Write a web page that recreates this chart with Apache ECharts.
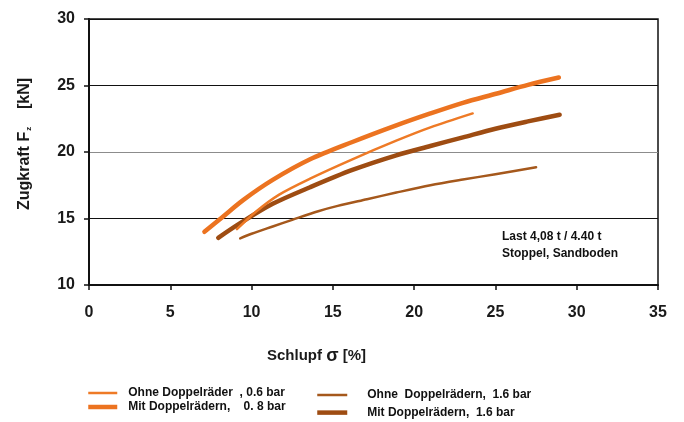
<!DOCTYPE html>
<html>
<head>
<meta charset="utf-8">
<script src="https://cdn.jsdelivr.net/npm/echarts@6/dist/echarts.min.js"></script>
<style>
  html, body { margin: 0; padding: 0; background: #fff; }
  #chart { width: 684px; height: 422px; }
</style>
</head>
<body>
<div id="chart"></div>
<script>
// Schlupf (x, %) und Zugkraft (y, kN) je Messreihe
const slipMit08 = [7.1, 8.2, 9.5, 11.3, 13.6, 16.2, 18.9, 21.0, 23.0, 25.1, 27.0, 28.9];
const forceMit08 = [14.0, 15.1, 16.4, 17.9, 19.45, 20.75, 22.0, 22.9, 23.7, 24.4, 25.05, 25.6];

const slipOhne06 = [9.1, 10.3, 11.7, 13.6, 16.2, 18.9, 21.0, 23.6];
const forceOhne06 = [14.2, 15.55, 16.8, 18.0, 19.45, 20.85, 21.85, 22.9];

const slipOhne16 = [9.3, 10.0, 11.3, 12.5, 14.1, 15.3, 17.1, 18.9, 21.0, 23.0, 25.0, 27.5];
const forceOhne16 = [13.5, 13.85, 14.4, 14.9, 15.55, 15.95, 16.45, 16.95, 17.5, 17.93, 18.33, 18.85];

const slipMit16 = [7.95, 9.3, 11.3, 13.6, 16.2, 18.9, 21.0, 23.0, 25.0, 27.0, 28.95];
const forceMit16 = [13.55, 14.65, 16.1, 17.35, 18.65, 19.75, 20.45, 21.1, 21.75, 22.3, 22.8];

const seriesNames = [
  'Ohne Doppelräder  , 0.6 bar',
  'Mit Doppelrädern,    0. 8 bar',
  'Ohne  Doppelrädern,  1.6 bar',
  'Mit Doppelrädern,  1.6 bar'
];

const xTicks = { min: 0, max: 35, step: 5 };
const yTicks = { min: 10, max: 30, step: 5 };

const zip = (xs, ys) => xs.map((x, i) => [x, ys[i]]);

const FONT = 'Liberation Sans, Arial, sans-serif';
const ORANGE = '#EC7320';
const ORANGE_THIN = '#EE7A26';
const BROWN = '#9E4C12';
const BROWN_THIN = '#A5581C';
const THIN = 2.5;
const THICK = 4.5;

function curve(name, data, color, width, z) {
  return {
    name, type: 'line', data, smooth: 0.3, symbol: 'none', z,
    lineStyle: { color, width, cap: 'round', join: 'round' },
    itemStyle: { color },
    emphasis: { disabled: true }
  };
}

const legendText = (gap) => ({
  fontSize: 12, fontWeight: 'bold', color: '#111', fontFamily: FONT,
  lineHeight: 12, padding: [0, 0, 0, gap]
});

const chart = echarts.init(document.getElementById('chart'), null, { renderer: 'canvas' });

chart.setOption({
  animation: false,
  backgroundColor: '#fff',
  textStyle: { fontFamily: FONT },
  grid: {
    left: 89, right: 26, top: 19, bottom: 137,
    show: true, borderColor: '#111', borderWidth: 1.5, backgroundColor: 'transparent'
  },
  xAxis: {
    type: 'value', min: xTicks.min, max: xTicks.max, interval: xTicks.step,
    axisLine: { show: true, lineStyle: { color: '#111', width: 2 } },
    axisTick: { show: true, inside: false, length: 5, lineStyle: { color: '#111', width: 1.5 } },
    splitLine: { show: false },
    axisLabel: { margin: 20, fontSize: 16, fontWeight: 'bold', color: '#1a1a1a', fontFamily: FONT },
    name: 'Schlupf {s|σ} [%]',
    nameLocation: 'middle',
    nameGap: 62,
    nameTextStyle: {
      fontSize: 15, fontWeight: 'bold', color: '#1a1a1a', fontFamily: FONT,
      padding: [0, 114, 0, 0],
      rich: { s: { fontSize: 18, fontWeight: 'bold', color: '#1a1a1a', fontFamily: FONT } }
    }
  },
  yAxis: {
    type: 'value', min: yTicks.min, max: yTicks.max, interval: yTicks.step,
    axisLine: { show: true, lineStyle: { color: '#111', width: 2 } },
    axisTick: { show: true, inside: false, length: 5, lineStyle: { color: '#111', width: 1.5 } },
    splitLine: { show: true, lineStyle: { color: ['#111', '#111', '#8c8c8c', '#111', '#111'], width: 1.2 } },
    axisLabel: { margin: 14, fontSize: 16, fontWeight: 'bold', color: '#1a1a1a', fontFamily: FONT },
    name: 'Zugkraft F{sub|z}    [kN]',
    nameLocation: 'middle',
    nameRotate: 90,
    nameGap: 56,
    nameTextStyle: {
      fontSize: 16, fontWeight: 'bold', color: '#1a1a1a', fontFamily: FONT,
      padding: [0, 0, 0, 16],
      rich: { sub: { fontSize: 8, fontWeight: 'bold', color: '#1a1a1a', padding: [8, 0, 0, 1] } }
    }
  },
  legend: [
    {
      data: [
        { name: seriesNames[0], lineStyle: { width: THIN, cap: 'butt' } },
        { name: seriesNames[1], lineStyle: { width: THICK, cap: 'butt' } }
      ],
      orient: 'vertical', left: 86, top: 387, padding: 0,
      itemWidth: 29, itemHeight: 12, itemGap: 2,
      itemStyle: { opacity: 0 },
      textStyle: legendText(6),
      selectedMode: false
    },
    {
      data: [
        { name: seriesNames[2], lineStyle: { width: THIN, cap: 'butt' } },
        { name: seriesNames[3], lineStyle: { width: THICK, cap: 'butt' } }
      ],
      orient: 'vertical', left: 315, top: 389, padding: 0,
      itemWidth: 30, itemHeight: 12, itemGap: 5.6,
      itemStyle: { opacity: 0 },
      textStyle: legendText(15),
      selectedMode: false
    }
  ],
  graphic: [
    {
      type: 'text', left: 502, top: 228,
      style: {
        text: 'Last 4,08 t / 4.40 t\nStoppel, Sandboden',
        font: 'bold 12px ' + FONT, fill: '#111', lineHeight: 17
      }
    }
  ],
  series: [
    curve(seriesNames[0], zip(slipOhne06, forceOhne06), ORANGE_THIN, THIN, 4),
    curve(seriesNames[1], zip(slipMit08, forceMit08), ORANGE, THICK, 3),
    curve(seriesNames[2], zip(slipOhne16, forceOhne16), BROWN_THIN, THIN, 4),
    curve(seriesNames[3], zip(slipMit16, forceMit16), BROWN, THICK, 3)
  ]
});
</script>
</body>
</html>
